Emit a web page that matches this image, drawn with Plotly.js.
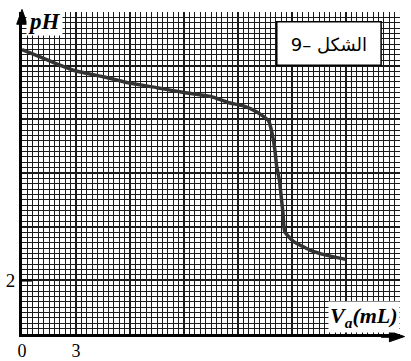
<!DOCTYPE html>
<html>
<head>
<meta charset="utf-8">
<script src="https://cdn.plot.ly/plotly-3.0.1.min.js"></script>
<style>html,body{margin:0;padding:0;background:#fff;}#chart{width:411px;height:361px;}</style>
</head>
<body>
<div id="chart"></div>
<script>
// Data (titration curve)
const volume = [0, 1, 2, 3, 4.5, 6, 7.5, 9, 10.5, 11.5, 12.3, 13, 13.7, 13.9, 14.05, 14.15, 14.3, 14.4, 14.5, 14.6, 15.1, 16, 16.9, 18];
const ph =     [10.6, 10.33, 10.05, 9.8, 9.59, 9.35, 9.18, 9.0, 8.85, 8.62, 8.5, 8.29, 7.95, 7.45, 6.86, 6.24, 5.74, 5.12, 4.5, 3.81, 3.44, 3.13, 2.94, 2.78];

const xTickVals = [0, 3, 6, 9, 12, 15, 18, 21];
const xTickText = ['0', '3', '', '', '', '', '', ''];
const yTickVals = [0, 2, 4, 6, 8, 10, 12];
const yTickText = ['', '2', '', '', '', '', ''];

const figureLabel = '9– الشكل';
const yLabel = '<b><i>pH</i></b>';
const xLabel = '<b><i>V<sub>a</sub>(mL)</i></b>';

const serif = 'Liberation Serif, Times New Roman, serif';
const gridDark = '#1a1a1a';

const trace = {
  x: volume, y: ph, type: 'scatter', mode: 'lines',
  line: {color: '#333', width: 3.5, shape: 'spline', smoothing: 0.5},
  hoverinfo: 'skip'
};

const layout = {
  width: 411, height: 361,
  margin: {l: 22, r: 11, t: 12, b: 27},
  paper_bgcolor: '#fff', plot_bgcolor: '#fff',
  showlegend: false,
  xaxis: {
    range: [0, 21], tickmode: 'array', tickvals: xTickVals, ticktext: xTickText,
    showgrid: true, gridcolor: gridDark, gridwidth: 2.2,
    zeroline: false, showline: true, linecolor: '#000', linewidth: 3,
    ticks: '', ticklen: 0, ticklabelstandoff: -2, tickfont: {family: serif, size: 18, color: '#000'},
    minor: {tickmode: 'linear', tick0: 0, dtick: 0.3, showgrid: true, gridcolor: gridDark, gridwidth: 1, ticks: ''},
    fixedrange: true
  },
  yaxis: {
    range: [0, 12], tickmode: 'array', tickvals: yTickVals, ticktext: yTickText,
    showgrid: true, gridcolor: gridDark, gridwidth: 2.2,
    zeroline: false, showline: true, linecolor: '#000', linewidth: 3,
    ticks: '', ticklen: 0, ticklabelstandoff: 0, tickfont: {family: serif, size: 19, color: '#000'},
    minor: {tickmode: 'linear', tick0: 0, dtick: 0.2, showgrid: true, gridcolor: gridDark, gridwidth: 1, ticks: ''},
    fixedrange: true
  },
  shapes: [
    {type: 'rect', xref: 'paper', yref: 'paper', x0: 0.674, x1: 0.950, y0: 0.835, y1: 0.970,
     fillcolor: '#fff', line: {color: '#000', width: 1.5}, layer: 'above',
     label: {text: figureLabel, textposition: 'middle center',
             font: {family: 'DejaVu Sans, sans-serif', size: 18, color: '#000'}}},
    {type: 'line', xref: 'paper', yref: 'y', x0: -0.006, x1: 0.027, y0: 2, y1: 2,
     line: {color: '#000', width: 2.5}, layer: 'above'},
    // axis arrowheads
    {type: 'path', xref: 'paper', yref: 'paper', path: 'M -0.014 0.962 L 0 1.008 L 0.014 0.962 Z',
     fillcolor: '#000', line: {color: '#000', width: 1}, layer: 'above'},
    {type: 'path', xref: 'paper', yref: 'paper', path: 'M 0.974 -0.008 L 1.010 -0.008 L 0.974 0.008 Z',
     fillcolor: '#000', line: {color: '#000', width: 0}, layer: 'above', visible: false},
    {type: 'path', xref: 'paper', yref: 'paper', path: 'M 0.972 0.008 L 1.012 -0.008 L 0.972 -0.024 Z',
     fillcolor: '#000', line: {color: '#000', width: 1}, layer: 'above'},
    {type: 'line', xref: 'paper', yref: 'paper', x0: 0.95, x1: 0.99, y0: -0.008, y1: -0.008,
     line: {color: '#000', width: 2.5}, layer: 'above'}
  ],
  annotations: [
    {xref: 'paper', yref: 'paper', x: 0.01, y: 1.015, xanchor: 'left', yanchor: 'top', text: yLabel, showarrow: false,
     bgcolor: '#fff', borderpad: 1, font: {family: serif, size: 23, color: '#000'}},
    {xref: 'paper', yref: 'paper', x: 1.0, y: 0.004, xanchor: 'right', yanchor: 'bottom', text: xLabel, showarrow: false,
     bgcolor: '#fff', borderpad: 1, font: {family: serif, size: 22, color: '#000'}}
  ]
};

Plotly.newPlot('chart', [trace], layout, {staticPlot: true, displayModeBar: false});
</script>
</body>
</html>
